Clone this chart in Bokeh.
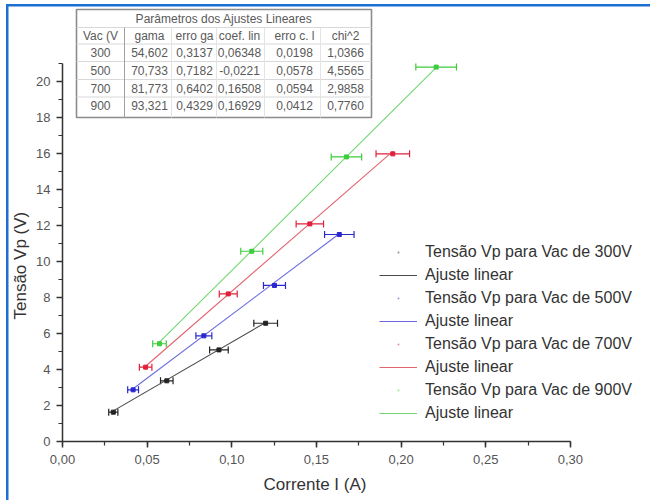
from bokeh.plotting import figure
from bokeh.models import (Range1d, Whisker, TeeHead, Legend, LegendItem, ColumnDataSource,
                          CustomJSTickFormatter, SingleIntervalTicker, Title)
from bokeh.core.properties import value
from bokeh.embed import file_html
from bokeh.resources import INLINE

FONT = "Liberation Sans"

# ---------------- data ----------------
series_names = ["Tensão Vp para Vac de 300V", "Tensão Vp para Vac de 500V",
                "Tensão Vp para Vac de 700V", "Tensão Vp para Vac de 900V"]
fit_label = "Ajuste linear"

i_300 = [0.0300, 0.0616, 0.0924, 0.1200]
v_300 = [1.63, 3.37, 5.09, 6.57]
e_300 = [0.0027, 0.0037, 0.0055, 0.0070]

i_500 = [0.0417, 0.0835, 0.1252, 0.1635]
v_500 = [2.87, 5.87, 8.67, 11.50]
e_500 = [0.0032, 0.0047, 0.0065, 0.0087]

i_700 = [0.0491, 0.0979, 0.1461, 0.1951]
v_700 = [4.13, 8.20, 12.09, 15.98]
e_700 = [0.0037, 0.0053, 0.0081, 0.0099]

i_900 = [0.0573, 0.1118, 0.1677, 0.2207]
v_900 = [5.43, 10.57, 15.81, 20.80]
e_900 = [0.0040, 0.0065, 0.0090, 0.0120]

gama = [54.602, 70.733, 81.773, 93.321]
coef_lin = [0.06348, -0.0221, 0.16508, 0.16929]

table_title = "Parâmetros dos Ajustes Lineares"
table_header = ["Vac (V", "gama", "erro ga", "coef. lin", "erro c. l", "chi^2"]
table_vac = ["300", "500", "700", "900"]
table_gama = ["54,602", "70,733", "81,773", "93,321"]
table_erro_gama = ["0,3137", "0,7182", "0,6402", "0,4329"]
table_coef = ["0,06348", "-0,0221", "0,16508", "0,16929"]
table_erro_coef = ["0,0198", "0,0578", "0,0594", "0,0412"]
table_chi2 = ["1,0366", "4,5565", "2,9858", "0,7760"]

x_label = "Corrente I (A)"
y_label = "Tensão Vp (V)"

# ---------------- styles ----------------
point_colors = ["#222222", "#2828cc", "#e0203c", "#3ccc3c"]
line_colors = ["#4a4a4a", "#6a6ade", "#e2646f", "#72d672"]
BLUE = "#1e6fd2"

W, H = 660, 500
FL, FR, FT, FB = 62, 660, 0, 441      # frame edges in canvas px
X_PER_UNIT = 1693.0
Y_PER_UNIT = 18.0

p = figure(width=W, height=H, output_backend="svg", toolbar_location=None,
           x_range=Range1d(0, (FR - FL) / X_PER_UNIT),
           y_range=Range1d(0, (FB - FT) / Y_PER_UNIT),
           min_border_left=FL, min_border_right=0, min_border_top=FT,
           min_border_bottom=H - FB)
p.extra_x_ranges = {"px": Range1d(FL, FR)}
p.extra_y_ranges = {"px": Range1d(FB, FT)}
p.outline_line_color = None
p.xgrid.visible = False
p.ygrid.visible = False
p.background_fill_alpha = 0
p.border_fill_alpha = 0
# blue screenshot-window edge, drawn as the page background behind the transparent canvas
p.styles = {
    "background": (f"linear-gradient({BLUE},{BLUE}) 6px 4px / 2.5px 496px no-repeat, "
                   f"linear-gradient({BLUE},{BLUE}) 6px 4px / 644px 2.5px no-repeat, #ffffff")
}

# axes
xa = p.xaxis[0]
ya = p.yaxis[0]
xa.bounds = (0, 0.3000001)
ya.bounds = (0, 21)
xa.ticker = SingleIntervalTicker(interval=0.05, num_minor_ticks=2)
ya.ticker = SingleIntervalTicker(interval=2, num_minor_ticks=2)
xa.formatter = CustomJSTickFormatter(code="return tick.toFixed(2).replace('.', ',');")
for ax in (xa, ya):
    ax.axis_line_color = "#333333"
    ax.axis_line_width = 1.5
    ax.major_tick_line_color = "#333333"
    ax.major_tick_line_width = 1.5
    ax.minor_tick_line_color = "#333333"
    ax.minor_tick_line_width = 1.2
    ax.major_tick_out = 6
    ax.major_tick_in = 0
    ax.minor_tick_out = 4
    ax.minor_tick_in = 0
    ax.major_label_text_font = FONT
    ax.major_label_text_font_size = "13px"
    ax.major_label_text_color = "#555555"
xa.major_label_standoff = 7
ya.major_label_standoff = 6

# axis titles centred on the bounded axes (0..0.30 and 0..21)
p.add_layout(Title(text=x_label, align="left", offset=201, standoff=12,
                   text_font=FONT, text_font_size="17px", text_font_style="normal",
                   text_color="#333333"), "below")
p.add_layout(Title(text=y_label, align="left", offset=122, standoff=8,
                   text_font=FONT, text_font_size="17px", text_font_style="normal",
                   text_color="#333333"), "left")

# series
all_i = [i_300, i_500, i_700, i_900]
all_v = [v_300, v_500, v_700, v_900]
all_e = [e_300, e_500, e_700, e_900]
items = []
for k in range(4):
    xs, ys, es = all_i[k], all_v[k], all_e[k]
    src = ColumnDataSource(dict(x=xs, y=ys,
                                lo=[a - b for a, b in zip(xs, es)],
                                hi=[a + b for a, b in zip(xs, es)]))
    # linear fit line from the table parameters
    fx = [min(xs), max(xs)]
    fy = [gama[k] * t + coef_lin[k] for t in fx]
    lr = p.line(fx, fy, line_color=line_colors[k], line_width=1.1)
    wk = Whisker(source=src, base="y", lower="lo", upper="hi", dimension="width",
                 line_color=point_colors[k], line_width=1.2,
                 upper_head=TeeHead(size=7, line_color=point_colors[k], line_width=1.2),
                 lower_head=TeeHead(size=7, line_color=point_colors[k], line_width=1.2))
    p.add_layout(wk)
    leg_r = p.scatter("x", "y", source=src, marker="dot", size=12,
                      line_color=point_colors[k], fill_color=point_colors[k], alpha=0.5)
    p.scatter("x", "y", source=src, marker="square", size=4,
              fill_color=point_colors[k], line_color=point_colors[k])
    items.append(LegendItem(label=series_names[k], renderers=[leg_r]))
    items.append(LegendItem(label=fit_label, renderers=[lr]))

legend = Legend(items=items, location=(317, 17), border_line_color=None,
                background_fill_alpha=0, label_text_font=FONT,
                label_text_font_size="16px", label_text_color="#333333",
                glyph_width=38, glyph_height=20, label_height=23, spacing=0,
                padding=0, margin=0, label_standoff=8)
p.add_layout(legend)

# ---------------- parameter table (pixel coordinates) ----------------
T_L, T_R, T_T, T_B = 76, 371, 9, 117
col_x = [100, 149, 194, 239, 294, 345]
row_y = [35, 52, 70, 88, 105]
p.quad(left=[T_L], right=[T_R], top=[T_T], bottom=[T_B], fill_color="white",
       line_color="#8c8c8c", line_width=1.6, x_range_name="px", y_range_name="px")
sep_y = [27, 43.5, 61, 79, 96.5]
p.segment(x0=[T_L] * len(sep_y), x1=[T_R] * len(sep_y), y0=sep_y, y1=sep_y,
          line_color="#d8d8d8", line_width=1, x_range_name="px", y_range_name="px")
vsep = [124, 171, 216, 264, 320]
p.segment(x0=vsep, x1=vsep, y0=[27] * len(vsep), y1=[T_B] * len(vsep),
          line_color=["#a0a0a0"] + ["#e4e4e4"] * (len(vsep) - 1), line_width=1,
          x_range_name="px", y_range_name="px")
p.text(x=[(T_L + T_R) / 2], y=[18], text=[table_title], text_align="center",
       text_baseline="middle", text_font=value(FONT), text_font_size="12px",
       text_color="#5a5a5a", x_range_name="px", y_range_name="px")
cells_x, cells_y, cells_t = [], [], []
columns = [table_vac, table_gama, table_erro_gama, table_coef, table_erro_coef, table_chi2]
for c in range(6):
    cells_x.append(col_x[c]); cells_y.append(row_y[0]); cells_t.append(table_header[c])
    for r in range(4):
        cells_x.append(col_x[c]); cells_y.append(row_y[r + 1]); cells_t.append(columns[c][r])
p.text(x=cells_x, y=cells_y, text=cells_t, text_align="center", text_baseline="middle",
       text_font=value(FONT), text_font_size="12px", text_color="#5a5a5a",
       x_range_name="px", y_range_name="px")

open("out.html", "w").write(file_html(p, INLINE))
